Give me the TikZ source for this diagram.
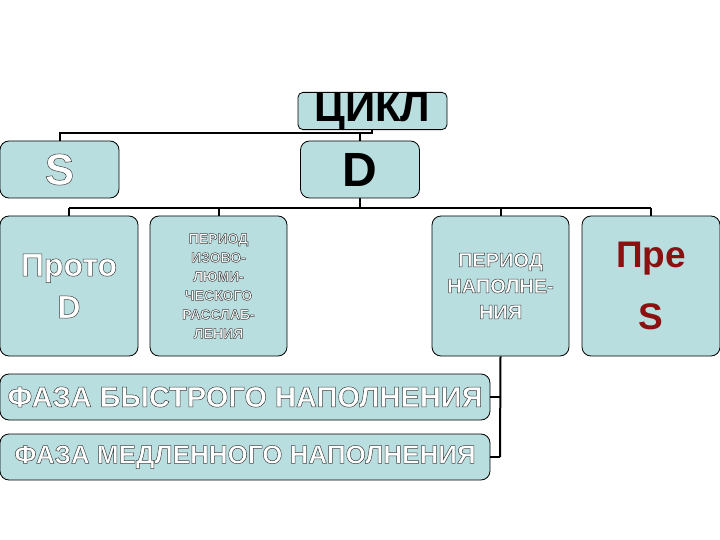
\documentclass[tikz,border=0pt]{standalone}
\usepackage{fontspec}
\setmainfont{Liberation Sans}
\definecolor{boxfill}{HTML}{B8DEE0}
\definecolor{predred}{HTML}{8B1010}
\newcommand{\outl}[1]{\special{pdf:literal 0.25 0.25 0.25 RG 2 Tr 0.5 w}#1\special{pdf:literal 0 Tr}}
\begin{document}
\begin{tikzpicture}[x=1pt,y=-1pt,
  bx/.style={draw=black,line width=0.8pt,fill=boxfill,rounded corners=9pt,inner sep=0pt,align=center,font=\bfseries},
  ln/.style={line width=2pt}]
\useasboundingbox (0,0) rectangle (720,540);
\node[bx,minimum width=149pt,minimum height=32pt,font=\bfseries\fontsize{42}{42}\selectfont,rounded corners=5pt] (cyc) at (372.5,111) {ЦИКЛ};
\node[bx,minimum width=119pt,minimum height=57pt,font=\bfseries\fontsize{44}{44}\selectfont,text=white] (s) at (59.5,169.5) {\outl{S}};
\node[bx,minimum width=119pt,minimum height=57pt,font=\bfseries\fontsize{48}{48}\selectfont] (d) at (360,169.5) {D};
\node[bx,minimum width=138pt,minimum height=140pt,font=\bfseries\fontsize{32}{42}\selectfont,text=white] (proto) at (69,286) {\outl{Прото}\\\outl{D}};
\node[bx,minimum width=137pt,minimum height=140pt,font=\bfseries\fontsize{14}{19}\selectfont,text=white] (iso) at (218.5,286) {\outl{ПЕРИОД}\\\outl{ИЗОВО-}\\\outl{ЛЮМИ-}\\\outl{ЧЕСКОГО}\\\outl{РАССЛАБ-}\\\outl{ЛЕНИЯ}};
\node[bx,minimum width=137pt,minimum height=140pt,font=\bfseries\fontsize{20}{26}\selectfont,text=white] (fill) at (500.5,286) {\outl{ПЕРИОД}\\\outl{НАПОЛНЕ-}\\\outl{НИЯ}};
\node[bx,minimum width=138pt,minimum height=140pt,font=\bfseries\fontsize{37}{62}\selectfont,text=predred] (pre) at (651,286) {Пре\\S};
\node[bx,minimum width=490pt,minimum height=46pt,font=\bfseries\fontsize{29}{29}\selectfont,text=white] (fast) at (245,397) {\outl{ФАЗА БЫСТРОГО НАПОЛНЕНИЯ}};
\node[bx,minimum width=490pt,minimum height=46pt,font=\bfseries\fontsize{26}{26}\selectfont,text=white] (slow) at (245,457) {\outl{ФАЗА МЕДЛЕННОГО НАПОЛНЕНИЯ}};
\coordinate (j1) at (372,133);
\coordinate (j2) at (360,208);
\coordinate (j3) at (500,457);
\draw[ln] (cyc.south -| j1) -- (j1) -- (j1 -| s.north) -- (s.north);
\draw[ln] (j1 -| d.north) -- (d.north);
\draw[ln] (d.south) -- (j2);
\draw[ln] (j2 -| proto.north) -- (j2 -| pre.north);
\draw[ln] (j2 -| proto.north) -- (proto.north);
\draw[ln] (j2 -| iso.north) -- (iso.north);
\draw[ln] (j2 -| fill.north) -- (fill.north);
\draw[ln] (j2 -| pre.north) -- (pre.north);
\draw[ln] (fill.south) -- (j3);
\draw[ln] (fast.east) -- (fast.east -| j3);
\draw[ln] (slow.east) -- (j3);
\end{tikzpicture}
\end{document}
